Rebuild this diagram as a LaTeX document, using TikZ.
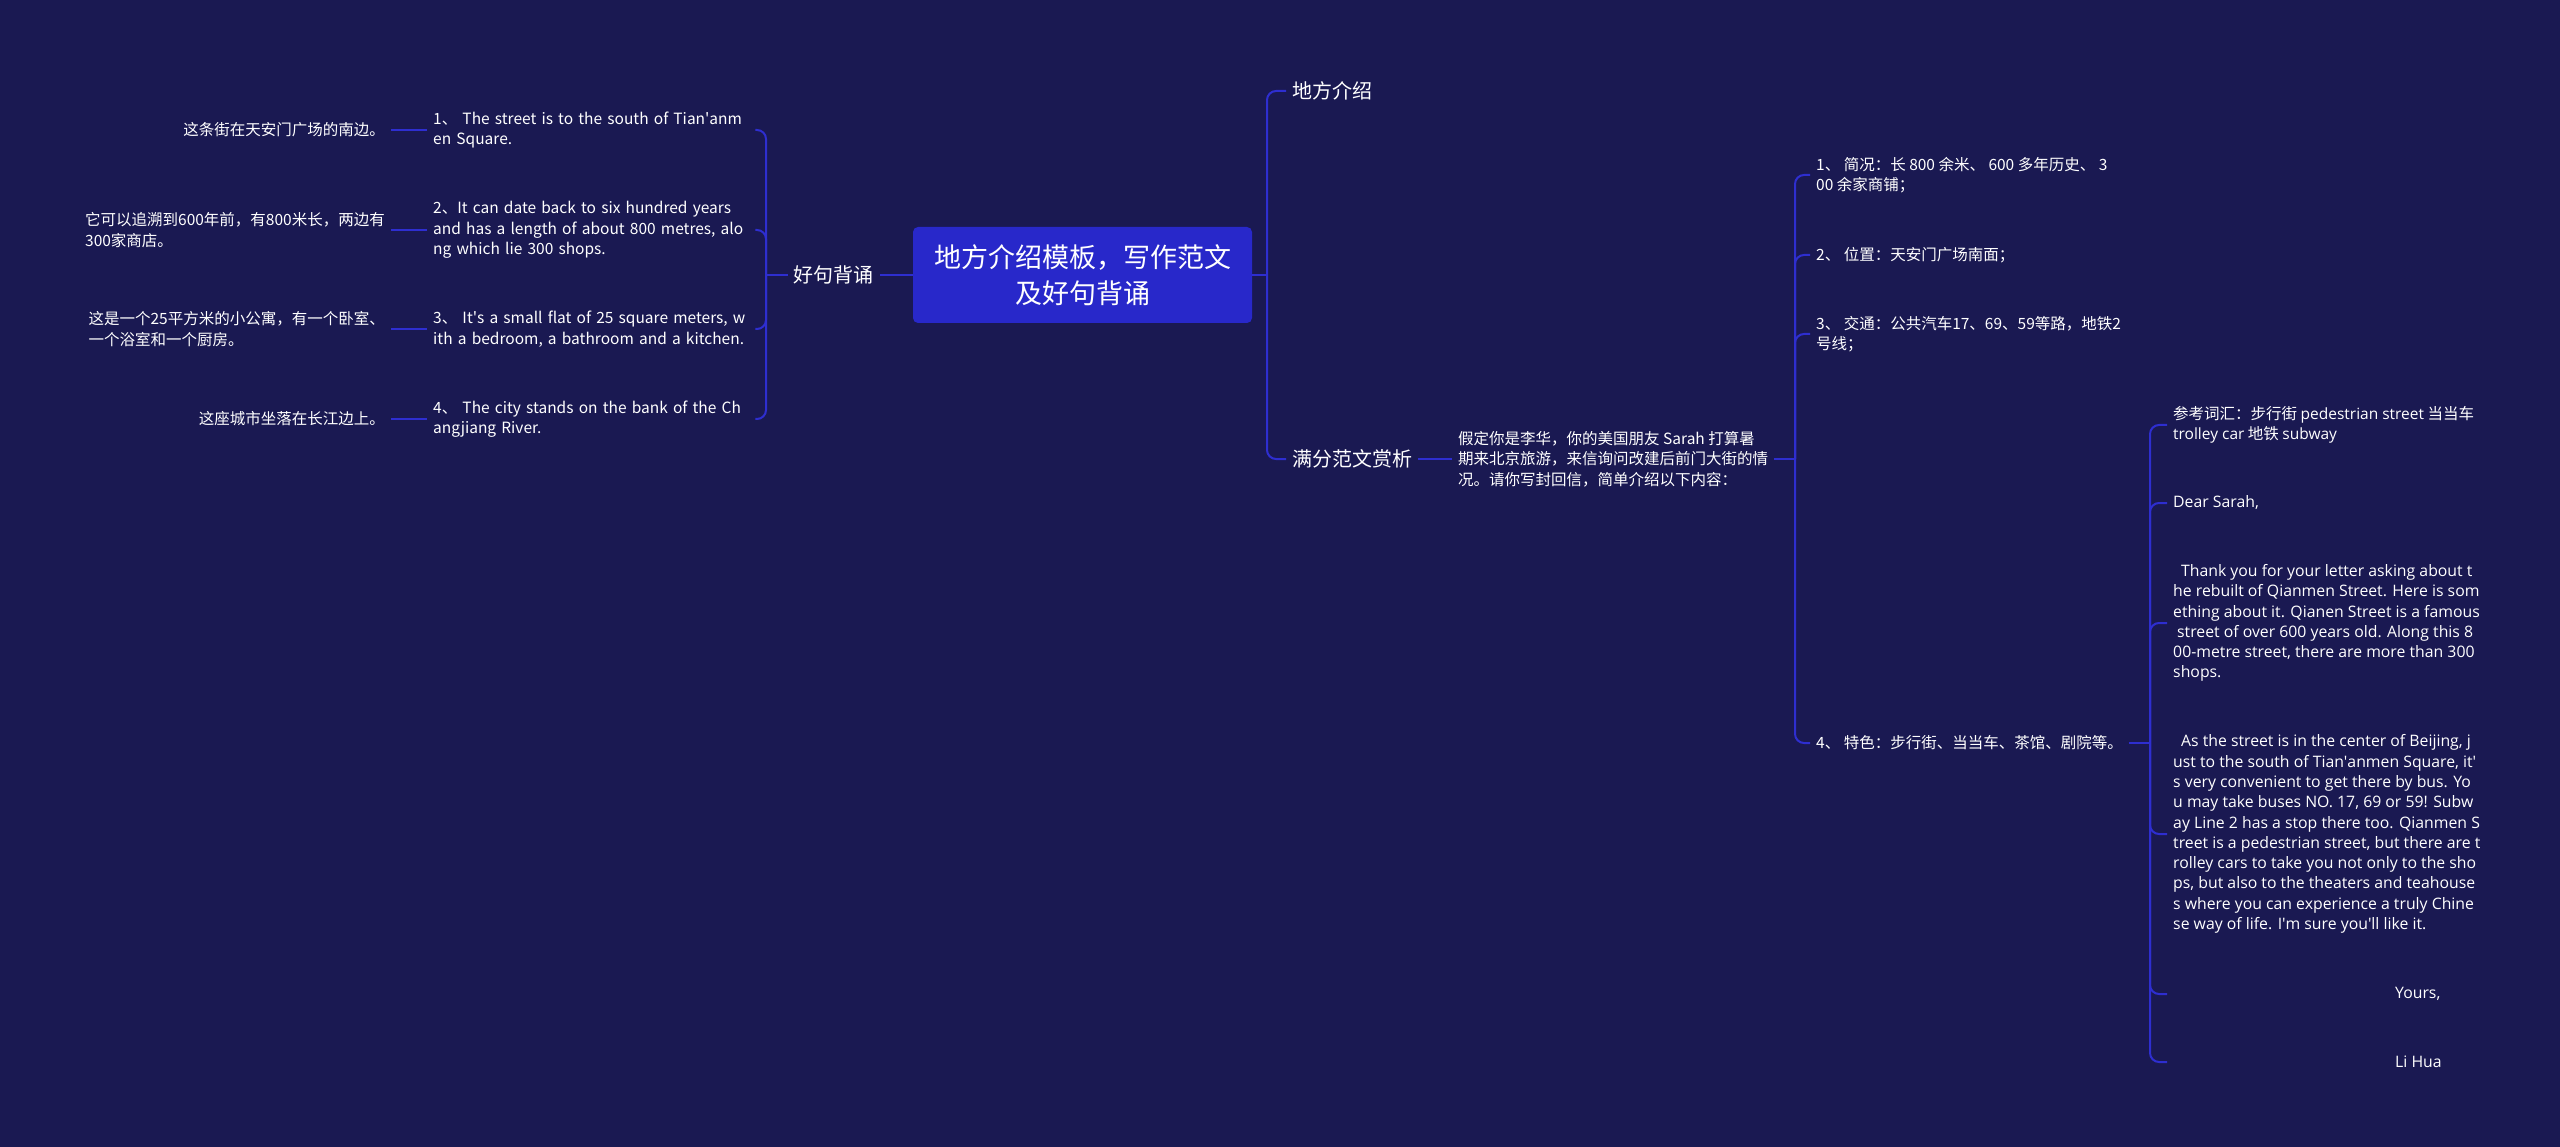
\documentclass[tikz,border=0pt]{standalone}
\usepackage{fontspec}
\setmainfont{Noto Sans CJK SC}
\newfontfamily\lat{Open Sans}
\definecolor{bgc}{RGB}{26,25,82}
\definecolor{linec}{RGB}{46,46,208}
\definecolor{rootc}{RGB}{40,40,202}
\newcommand\aq{\textquotesingle}
\tikzset{
  conn/.style={draw=linec, line width=2pt, rounded corners=9pt},
  stem/.style={draw=linec, line width=2pt},
  rootbox/.style={fill=rootc, rounded corners=5pt, minimum width=339pt, minimum height=96pt, align=center, text=white, font=\fontsize{27}{36}\selectfont},
  lvone/.style={text=white, inner xsep=6pt, inner ysep=2pt, font=\fontsize{20}{24}\selectfont},
  leaf/.style={text=white, inner xsep=6pt, inner ysep=2pt, align=left, font=\fontsize{15.5}{20.6}\selectfont},
  letter/.style={leaf, font=\lat\fontsize{15.8}{20.3}\selectfont}
}
\begin{document}
\begin{tikzpicture}[x=1pt,y=-1pt]
\fill[bgc] (0,0) rectangle (2560,1147);
\useasboundingbox (0,0) rectangle (2560,1147);
% root
\node[rootbox] (root) at (1082.5,275) {地方介绍模板，写作范文\\及好句背诵};
% right level 1
\node[lvone, anchor=west] (intro) at (1286,91) {地方介绍};
\node[lvone, anchor=west] (essay) at (1286,459) {满分范文赏析};
\coordinate (jR) at (1267,275);
\draw[stem] (root.east) -- (jR);
\draw[conn] (jR) -- (jR |- intro.west) -- (intro.west);
\draw[conn] (jR) -- (jR |- essay.west) -- (essay.west);
% task
\node[leaf, anchor=west] (task) at (1452,459) {假定你是李华，你的美国朋友 Sarah 打算暑\\期来北京旅游，来信询问改建后前门大街的情\\况。请你写封回信，简单介绍以下内容：};
\draw[stem] (essay.east) -- (task.west);
\node[leaf, anchor=west] (p1) at (1810,175) {1、 简况：长 800 余米、 600 多年历史、 3\\00 余家商铺；};
\node[leaf, anchor=west] (p2) at (1810,255) {2、 位置：天安门广场南面；};
\node[leaf, anchor=west] (p3) at (1810,334) {3、 交通：公共汽车17、69、59等路，地铁2\\号线；};
\node[leaf, anchor=west] (p4) at (1810,743) {4、 特色：步行街、当当车、茶馆、剧院等。};
\coordinate (jT) at (1795,459);
\draw[stem] (task.east) -- (jT);
\foreach \n in {p1,p2,p3,p4}
  \draw[conn] (jT) -- (jT |- \n.west) -- (\n.west);
% letter
\node[leaf, anchor=west] (vocab) at (2167,425) {参考词汇：步行街 {\lat pedestrian street} 当当车\\{\lat trolley car} 地铁 {\lat subway}};
\node[letter, anchor=west] (dear) at (2167,503) {Dear Sarah,};
\node[letter, anchor=west] (thank) at (2167,623) {\hspace*{0.5em}Thank you for your letter asking about t\\he rebuilt of Qianmen Street. Here is som\\ething about it. Qianen Street is a famous\\\hspace*{0.25em}street of over 600 years old. Along this 8\\00-metre street, there are more than 300\\shops.};
\node[letter, anchor=west] (asst) at (2167,834) {\hspace*{0.5em}As the street is in the center of Beijing, j\\ust to the south of Tian\aq anmen Square, it\aq\\s very convenient to get there by bus. Yo\\u may take buses NO. 17, 69 or 59! Subw\\ay Line 2 has a stop there too. Qianmen S\\treet is a pedestrian street, but there are t\\rolley cars to take you not only to the sho\\ps, but also to the theaters and teahouse\\s where you can experience a truly Chine\\se way of life. I\aq m sure you\aq ll like it.};
\node[letter, anchor=west] (yours) at (2167,994) {\hspace*{222pt}Yours,};
\node[letter, anchor=west] (lihua) at (2167,1062) {\hspace*{222pt}Li Hua};
\coordinate (jL) at (2150,743);
\draw[stem] (p4.east) -- (jL);
\foreach \n in {vocab,dear,thank,asst,yours,lihua}
  \draw[conn] (jL) -- (jL |- \n.west) -- (\n.west);
% left
\node[lvone, anchor=east] (good) at (880,275) {好句背诵};
\draw[stem] (root.west) -- (good.east);
\node[leaf, anchor=west, text width=316pt] (e1) at (427,130) {1、 The street is to the south of Tian\aq anm\\en Square.};
\node[leaf, anchor=west, text width=316pt] (e2) at (427,230) {2、It can date back to six hundred years\\and has a length of about 800 metres, alo\\ng which lie 300 shops.};
\node[leaf, anchor=west, text width=316pt] (e3) at (427,329) {3、 It\aq s a small flat of 25 square meters, w\\ith a bedroom, a bathroom and a kitchen.};
\node[leaf, anchor=west, text width=316pt] (e4) at (427,419) {4、 The city stands on the bank of the Ch\\angjiang River.};
\coordinate (jG) at (766,275);
\draw[stem] (good.west) -- (jG);
\foreach \n in {e1,e2,e3,e4}
  \draw[conn] (jG) -- (jG |- \n.east) -- (\n.east);
\node[leaf, anchor=east] (c1) at (391,130) {这条街在天安门广场的南边。};
\node[leaf, anchor=east] (c2) at (391,230) {它可以追溯到600年前，有800米长，两边有\\300家商店。};
\node[leaf, anchor=east] (c3) at (391,329) {这是一个25平方米的小公寓，有一个卧室、\\一个浴室和一个厨房。};
\node[leaf, anchor=east] (c4) at (391,419) {这座城市坐落在长江边上。};
\draw[stem] (c1.east) -- (e1.west);
\draw[stem] (c2.east) -- (e2.west);
\draw[stem] (c3.east) -- (e3.west);
\draw[stem] (c4.east) -- (e4.west);
\end{tikzpicture}
\end{document}
